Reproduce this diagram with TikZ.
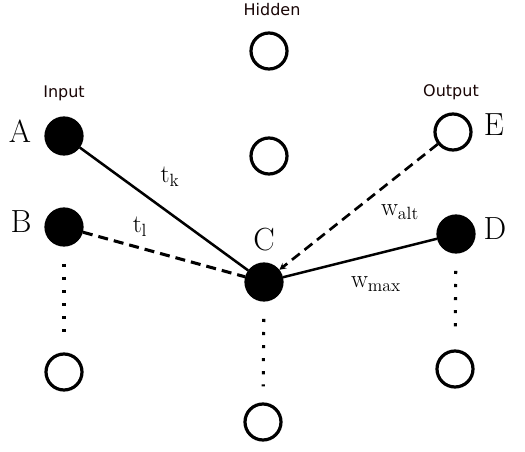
\documentclass[tikz,border=0pt]{standalone}
\usepackage{fontspec}
\newfontfamily\layerfont{DejaVu Sans}
\usetikzlibrary{arrows.meta}
\definecolor{layerred}{rgb}{0.1,0.02,0.02}
\begin{document}
\begin{tikzpicture}[x=0.75pt, y=-0.75pt,
  neuron/.style={circle, draw, line width=2.4pt, minimum size=27pt, inner sep=0pt},
  fired/.style={neuron, fill=black},
  layer/.style={font=\layerfont\fontsize{12}{14}\selectfont, text=layerred},
  letter/.style={font=\fontsize{24}{28}\selectfont},
  weight/.style={font=\fontsize{19}{21}\selectfont},
  link/.style={line width=1.9pt},
  guess/.style={line width=2.3pt, dash pattern=on 7.5pt off 4.5pt},
  more/.style={line width=2.3pt, dash pattern=on 2.3pt off 7.5pt, shorten <=13pt, shorten >=12pt}]
  \useasboundingbox (0,0) rectangle (525,452);

  % Layer titles
  \node[layer] (hidtitle) at (272,10) {Hidden};
  \node[layer] (intitle) at (64,93) {Input};
  \node[layer] (outtitle) at (451,92) {Output};

  % Input column
  \node[fired] (A) at (64,136) {};
  \node[fired] (B) at (64,227) {};
  \node[neuron] (Bn) at (64,372) {};
  \node[letter] at (20,131) {A};
  \node[letter] at (21,222) {B};

  % Hidden column
  \node[neuron] (H1) at (269,51) {};
  \node[neuron] (H2) at (269,156) {};
  \node[fired] (C) at (264,282) {};
  \node[neuron] (Cn) at (263,422) {};
  \node[letter] at (264,240) {C};

  % Output column
  \node[neuron] (E) at (453,132) {};
  \node[fired] (D) at (456,234) {};
  \node[neuron] (Dn) at (455,369) {};
  \node[letter] at (494,125) {E};
  \node[letter] at (495,229) {D};

  % Draw the connections
  \draw[link] (A) -- (C);
  \draw[guess] (B) -- (C);
  \draw[guess, line width=2pt, -{Stealth[length=5pt, width=5pt]}] (E) -- (C);
  \draw[link] (C) -- (D);

  \node[weight] at (170,177) {$\mathrm{t}_{\mathrm{k}}$};
  \node[weight] at (140,227) {$\mathrm{t}_{\mathrm{l}}$};
  \node[weight] at (400,212) {$\mathrm{w}_{\mathrm{alt}}$};
  \node[weight] at (376,284) {$\mathrm{w}_{\mathrm{max}}$};

  % Draw the dots down each column
  \draw[more] (B) -- (Bn);
  \draw[more] (C) -- (Cn);
  \draw[more] (D) -- (Dn);
\end{tikzpicture}
\end{document}
